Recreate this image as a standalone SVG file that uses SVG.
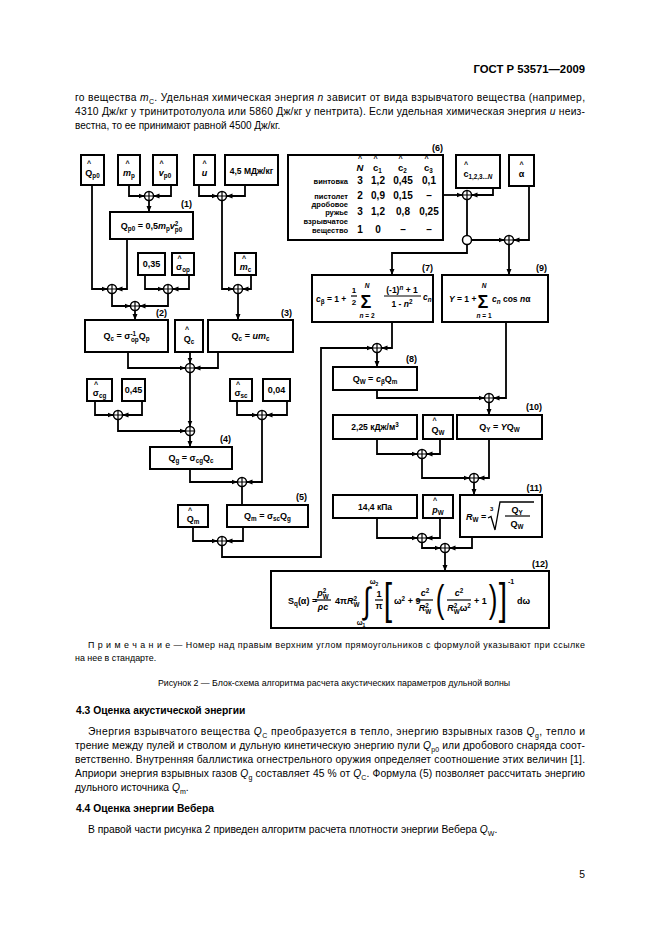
<svg xmlns="http://www.w3.org/2000/svg" width="661" height="935" viewBox="0 0 661 935">
<defs>
<style>
.bx{fill:#fff;stroke:#000;stroke-width:2}
.ln{fill:none;stroke:#000;stroke-width:1.8}
.ar{marker-end:url(#ah)}
.fr{stroke:#000;stroke-width:1.2}
.rad{fill:none;stroke:#000;stroke-width:1.3}
.t{font-family:"Liberation Sans",Arial,sans-serif;font-weight:bold;font-size:9px;fill:#000;text-anchor:middle}
.tl{font-family:"Liberation Sans",Arial,sans-serif;font-weight:bold;font-size:9px;fill:#000}
.lab{font-family:"Liberation Sans",Arial,sans-serif;font-weight:bold;font-size:7.5px;fill:#000;text-anchor:end}
.num{font-family:"Liberation Sans",Arial,sans-serif;font-weight:bold;font-size:9px;fill:#000;text-anchor:end}
.v{font-family:"Liberation Sans",Arial,sans-serif;font-weight:bold;font-size:10px;fill:#000;text-anchor:middle}
.i{font-style:italic}
.s{font-size:6.3px}
.hat{font-family:"Liberation Sans",Arial,sans-serif;font-weight:bold;font-size:7px;text-anchor:middle}
.big{font-family:"Liberation Sans",Arial,sans-serif;font-weight:bold;fill:#000;text-anchor:middle}
.brk{font-family:"Liberation Sans",Arial,sans-serif;font-weight:normal;fill:#000;text-anchor:middle}
.p{font-family:"Liberation Sans",Arial,sans-serif;font-size:10.3px;fill:#000}
.h{font-weight:bold}
.ps{font-size:7px}
</style>
<marker id="ah" viewBox="0 0 6 6" refX="6" refY="3" markerWidth="6" markerHeight="6" markerUnits="userSpaceOnUse" orient="auto"><path d="M0 0.5L6 3L0 5.5z" fill="#000"/></marker>
<g id="sum"><circle r="4.5" fill="#fff" stroke="#000" stroke-width="1.5"/><path d="M-4.5 0H4.5M0-4.5V4.5" stroke="#000" stroke-width="1.2"/></g>
</defs>
<rect width="661" height="935" fill="#fff"/>

<!-- page text -->
<g id="page-text">
<text class="p h" x="585" y="73" text-anchor="end" style="font-size:11.3px">ГОСТ Р 53571—2009</text>
<text class="p" x="75" y="101" textLength="510" lengthAdjust="spacing">го вещества <tspan class="i">m</tspan><tspan class="ps" dy="2.5">C</tspan><tspan dy="-2.5">. Удельная химическая энергия </tspan><tspan class="i">n</tspan> зависит от вида взрывчатого вещества (например,</text>
<text class="p" x="75" y="115" textLength="510" lengthAdjust="spacing">4310 Дж/кг у тринитротолуола или 5860 Дж/кг у пентрита). Если удельная химическая энергия <tspan class="i">u</tspan> неиз-</text>
<text class="p" x="75" y="129" style="font-size:10px">вестна, то ее принимают равной 4500 Дж/кг.</text>

<text class="p" x="88" y="648" style="font-size:8.9px" textLength="497" lengthAdjust="spacing">П р и м е ч а н и е — Номер над правым верхним углом прямоугольников с формулой указывают при ссылке</text>
<text class="p" x="75" y="661" style="font-size:8.9px">на нее в стандарте.</text>
<text class="p" x="334" y="686" style="font-size:8.8px" text-anchor="middle">Рисунок  2 — Блок-схема алгоритма расчета акустических параметров дульной волны</text>

<text class="p h" x="76" y="714">4.3  Оценка акустической энергии</text>
<text class="p" x="88" y="735" textLength="497" lengthAdjust="spacing">Энергия взрывчатого вещества <tspan class="i">Q</tspan><tspan class="ps" dy="2.5">C</tspan><tspan dy="-2.5"> преобразуется в тепло, энергию взрывных газов </tspan><tspan class="i">Q</tspan><tspan class="ps" dy="2.5">g</tspan><tspan dy="-2.5">, тепло и</tspan></text>
<text class="p" x="75" y="749" textLength="510" lengthAdjust="spacing">трение между пулей и стволом и дульную кинетическую энергию пули <tspan class="i">Q</tspan><tspan class="ps" dy="2.5">p0</tspan><tspan dy="-2.5"> или дробового снаряда соот-</tspan></text>
<text class="p" x="75" y="763" textLength="510" lengthAdjust="spacing">ветственно. Внутренняя баллистика огнестрельного оружия определяет соотношение этих величин [1].</text>
<text class="p" x="75" y="777" textLength="510" lengthAdjust="spacing">Априори энергия взрывных газов <tspan class="i">Q</tspan><tspan class="ps" dy="2.5">g</tspan><tspan dy="-2.5"> составляет 45 % от </tspan><tspan class="i">Q</tspan><tspan class="ps" dy="2.5">C</tspan><tspan dy="-2.5">. Формула (5) позволяет рассчитать энергию</tspan></text>
<text class="p" x="75" y="791">дульного источника <tspan class="i">Q</tspan><tspan class="ps" dy="2.5">m</tspan><tspan dy="-2.5">.</tspan></text>
<text class="p h" x="76" y="812">4.4  Оценка энергии Вебера</text>
<text class="p" x="88" y="833">В правой части рисунка 2 приведен алгоритм расчета плотности энергии Вебера <tspan class="i">Q</tspan><tspan class="ps" dy="2.5">W</tspan><tspan dy="-2.5">.</tspan></text>
<text class="p" x="585" y="878" text-anchor="end">5</text>
</g>

<!-- connectors -->
<g id="connectors">
<path class="ln ar" d="M129 185V196H144.5"/>
<path class="ln ar" d="M171 185V196H153.5"/>
<path class="ln ar" d="M149 200.5V212"/>
<path class="ln ar" d="M199 185V196H217.5"/>
<path class="ln ar" d="M245 185V196H226.5"/>
<path class="ln ar" d="M92 185V289H107.5"/>
<path class="ln ar" d="M127 239V289H116.5"/>
<path class="ln ar" d="M145 275V289H163.5"/>
<path class="ln ar" d="M189 275V289H172.5"/>
<path class="ln ar" d="M222 200.5V289H233.5"/>
<path class="ln ar" d="M251 275V289H242.5"/>
<path class="ln ar" d="M112 293.5V306H130.5"/>
<path class="ln ar" d="M168 293.5V306H139.5"/>
<path class="ln ar" d="M135 310.5V320"/>
<path class="ln ar" d="M238 293.5V320"/>
<path class="ln ar" d="M128 352V368H185.5"/>
<path class="ln ar" d="M190 352V363.5"/>
<path class="ln ar" d="M218 352V368H194.5"/>
<path class="ln ar" d="M95 401V415H113.5"/>
<path class="ln ar" d="M142 401V415H122.5"/>
<path class="ln ar" d="M237 401V415H257.5"/>
<path class="ln ar" d="M287 401V415H266.5"/>
<path class="ln ar" d="M190 372.5V426.5"/>
<path class="ln ar" d="M118 419.5V431H185.5"/>
<path class="ln ar" d="M190 435.5V447"/>
<path class="ln ar" d="M190 469V482H237.5"/>
<path class="ln ar" d="M262 419.5V482H246.5"/>
<path class="ln" d="M242 486.5V505"/>
<path class="ln ar" d="M193 527V541H217.5"/>
<path class="ln ar" d="M243 527V541H226.5"/>
<path class="ln ar" d="M222 545.5V557H321V348H372.5"/>
<path class="ln ar" d="M443 195H462.5"/>
<path class="ln ar" d="M493 188V195H471.5"/>
<path class="ln" d="M467 199.5V235.5"/>
<path class="ln ar" d="M471.5 240H504.5"/>
<path class="ln ar" d="M529 186V240H513.5"/>
<path class="ln ar" d="M467 244.5V253H392V275"/>
<path class="ln ar" d="M509 244.5V275"/>
<path class="ln ar" d="M392 322V348H381.5"/>
<path class="ln ar" d="M377 352.5V367"/>
<path class="ln ar" d="M377 390V398H484.5"/>
<path class="ln ar" d="M506 322V398H493.5"/>
<path class="ln ar" d="M489 402.5V415"/>
<path class="ln ar" d="M377 439V454H417.5"/>
<path class="ln ar" d="M440 439V454H426.5"/>
<path class="ln ar" d="M422 458.5V478H469.5"/>
<path class="ln ar" d="M489 439V478H478.5"/>
<path class="ln ar" d="M474 482.5V495"/>
<path class="ln ar" d="M377 518V538H417.5"/>
<path class="ln ar" d="M440 518V538H426.5"/>
<path class="ln ar" d="M422 542.5V548H440.5"/>
<path class="ln ar" d="M472 537V548H449.5"/>
<path class="ln ar" d="M445 552.5V571"/>
</g>

<g id="junctions">
<use href="#sum" x="149" y="196"/>
<use href="#sum" x="222" y="196"/>
<use href="#sum" x="112" y="289"/>
<use href="#sum" x="168" y="289"/>
<use href="#sum" x="238" y="289"/>
<use href="#sum" x="135" y="306"/>
<use href="#sum" x="190" y="368"/>
<use href="#sum" x="118" y="415"/>
<use href="#sum" x="262" y="415"/>
<use href="#sum" x="190" y="431"/>
<use href="#sum" x="242" y="482"/>
<use href="#sum" x="222" y="541"/>
<use href="#sum" x="467" y="195"/>
<circle cx="467" cy="240" r="4.5" fill="#fff" stroke="#000" stroke-width="1.5"/>
<use href="#sum" x="509" y="240"/>
<use href="#sum" x="377" y="348"/>
<use href="#sum" x="489" y="398"/>
<use href="#sum" x="422" y="454"/>
<use href="#sum" x="474" y="478"/>
<use href="#sum" x="422" y="538"/>
<use href="#sum" x="445" y="548"/>
</g>

<!-- left column nodes -->
<g id="n-qp0hat"><rect class="bx" x="81" y="155" width="23" height="30"/><text class="t" x="92.5" y="176">Q<tspan class="s" dy="2">p0</tspan></text><text class="hat" x="89" y="166">^</text></g>
<g id="n-mphat"><rect class="bx" x="118" y="155" width="22" height="30"/><text class="t" x="129" y="176"><tspan class="i">m</tspan><tspan class="s" dy="2">p</tspan></text><text class="hat" x="127.5" y="166">^</text></g>
<g id="n-vp0hat"><rect class="bx" x="153" y="155" width="24" height="30"/><text class="t" x="165" y="176"><tspan class="i">v</tspan><tspan class="s" dy="2">p0</tspan></text><text class="hat" x="161.5" y="166">^</text></g>
<g id="n-uhat"><rect class="bx" x="194" y="155" width="21" height="30"/><text class="t" x="204.5" y="176"><tspan class="i">u</tspan></text><text class="hat" x="204.5" y="166">^</text></g>
<g id="n-45"><rect class="bx" x="225" y="155" width="53" height="30"/><text class="t" x="251.5" y="174" style="font-size:8.5px">4,5 МДж/кг</text></g>
<g id="n1"><rect class="bx" x="110" y="212" width="83" height="27"/><text class="num" x="192" y="207">(1)</text>
<text class="t" x="151.5" y="229">Q<tspan class="s" dy="2">p0</tspan><tspan dy="-2"> = 0,5</tspan><tspan class="i">m</tspan><tspan class="s" dy="2">p</tspan><tspan class="i" dy="-2">v</tspan><tspan class="s" dy="-3.5">2</tspan><tspan class="s" dx="-3.5" dy="6">p0</tspan></text></g>
<g id="n-035"><rect class="bx" x="138" y="253" width="27" height="22"/><text class="t" x="151.5" y="267">0,35</text></g>
<g id="n-sophat"><rect class="bx" x="172" y="253" width="22" height="22"/><text class="t" x="183" y="270">σ<tspan class="s" dy="2">op</tspan></text><text class="hat" x="179.5" y="261">^</text></g>
<g id="n-mchat"><rect class="bx" x="235" y="253" width="21" height="22"/><text class="t" x="245.5" y="270"><tspan class="i">m</tspan><tspan class="s" dy="2">c</tspan></text><text class="hat" x="244" y="261">^</text></g>
<g id="n2"><rect class="bx" x="85" y="320" width="83" height="32"/><text class="num" x="167" y="316">(2)</text>
<text class="t" x="126.5" y="339">Q<tspan class="s" dy="2">c</tspan><tspan dy="-2"> = σ</tspan><tspan class="s" dy="-3.5">-1</tspan><tspan class="s" dx="-5" dy="6">op</tspan><tspan dy="-2.5">Q</tspan><tspan class="s" dy="2">p</tspan></text></g>
<g id="n-qchat"><rect class="bx" x="175" y="320" width="28" height="32"/><text class="t" x="189" y="342">Q<tspan class="s" dy="2">c</tspan></text><text class="hat" x="187" y="332">^</text></g>
<g id="n3"><rect class="bx" x="208" y="320" width="85" height="32"/><text class="num" x="292" y="316">(3)</text>
<text class="t" x="250.5" y="339">Q<tspan class="s" dy="2">c</tspan><tspan dy="-2"> = </tspan><tspan class="i">um</tspan><tspan class="s" dy="2">c</tspan></text></g>
<g id="n-scghat"><rect class="bx" x="87" y="379" width="25" height="22"/><text class="t" x="99.5" y="396">σ<tspan class="s" dy="2">cg</tspan></text><text class="hat" x="96" y="387">^</text></g>
<g id="n-045"><rect class="bx" x="122" y="379" width="23" height="22"/><text class="t" x="133.5" y="393">0,45</text></g>
<g id="n-sschat"><rect class="bx" x="230" y="379" width="22" height="22"/><text class="t" x="241" y="396">σ<tspan class="s" dy="2">sc</tspan></text><text class="hat" x="238" y="387">^</text></g>
<g id="n-004"><rect class="bx" x="263" y="379" width="27" height="22"/><text class="t" x="276.5" y="393">0,04</text></g>
<g id="n4"><rect class="bx" x="150" y="447" width="82" height="22"/><text class="num" x="231" y="442">(4)</text>
<text class="t" x="191" y="461">Q<tspan class="s" dy="2">g</tspan><tspan dy="-2"> = σ</tspan><tspan class="s" dy="2">cg</tspan><tspan dy="-2">Q</tspan><tspan class="s" dy="2">c</tspan></text></g>
<g id="n-qmhat"><rect class="bx" x="178" y="505" width="30" height="22"/><text class="t" x="193" y="522">Q<tspan class="s" dy="2">m</tspan></text><text class="hat" x="190" y="513">^</text></g>
<g id="n5"><rect class="bx" x="227" y="505" width="81" height="22"/><text class="num" x="307" y="500">(5)</text>
<text class="t" x="267.5" y="519">Q<tspan class="s" dy="2">m</tspan><tspan dy="-2"> = σ</tspan><tspan class="s" dy="2">sc</tspan><tspan dy="-2">Q</tspan><tspan class="s" dy="2">g</tspan></text></g>

<!-- right column nodes -->
<g id="n6"><rect class="bx" x="288" y="155" width="155" height="85"/><text class="num" x="443" y="151">(6)</text>
<text class="v i" x="360" y="171" style="font-size:9.5px">N</text><text class="hat" x="360" y="161">^</text>
<text class="tl" x="373" y="171" style="font-size:9.5px">c<tspan class="s" dy="1.5">1</tspan></text><text class="hat" x="375.5" y="161">^</text>
<text class="tl" x="398" y="171" style="font-size:9.5px">c<tspan class="s" dy="1.5">2</tspan></text><text class="hat" x="400.5" y="161">^</text>
<text class="tl" x="424" y="171" style="font-size:9.5px">c<tspan class="s" dy="1.5">3</tspan></text><text class="hat" x="426.5" y="161">^</text>
<text class="lab" x="348" y="184">винтовка</text>
<text class="v" x="360" y="184">3</text><text class="v" x="378" y="184">1,2</text><text class="v" x="403" y="184">0,45</text><text class="v" x="429" y="184">0,1</text>
<text class="lab" x="348" y="199">пистолет</text>
<text class="v" x="360" y="199">2</text><text class="v" x="378" y="199">0,9</text><text class="v" x="403" y="199">0,15</text><text class="v" x="429" y="199">–</text>
<text class="lab" x="348" y="207">дробовое</text>
<text class="lab" x="348" y="215">ружье</text>
<text class="v" x="360" y="215">3</text><text class="v" x="378" y="215">1,2</text><text class="v" x="403" y="215">0,8</text><text class="v" x="429" y="215">0,25</text>
<text class="lab" x="348" y="224">взрывчатое</text>
<text class="lab" x="348" y="233">вещество</text>
<text class="v" x="360" y="233">1</text><text class="v" x="378" y="233">0</text><text class="v" x="403" y="233">–</text><text class="v" x="429" y="233">–</text>
</g>
<g id="n-chat"><rect class="bx" x="456" y="155" width="44" height="33"/><text class="t" x="478" y="177">c<tspan class="s" dy="2">1,2,3...<tspan class="i">N</tspan></tspan></text><text class="hat" x="466" y="167">^</text></g>
<g id="n-ahat"><rect class="bx" x="509" y="155" width="25" height="31"/><text class="t" x="521.5" y="177">α</text><text class="hat" x="521.5" y="167">^</text></g>

<g id="n7"><rect class="bx" x="312" y="275" width="121" height="47"/><text class="num" x="433" y="271">(7)</text>
<text class="tl" x="316" y="302" style="font-size:8.5px"><tspan class="i">c</tspan><tspan class="s" dy="2">β</tspan><tspan dy="-2"> = 1 +</tspan></text>
<text class="t" x="354" y="293" style="font-size:8px">1</text><line class="fr" x1="351" y1="296" x2="357" y2="296"/><text class="t" x="354" y="305" style="font-size:8px">2</text>
<text class="big" x="366" y="308" font-size="18">Σ</text>
<text class="t i" x="367" y="288" style="font-size:6.5px">N</text>
<text class="t" x="367" y="318" style="font-size:6.5px"><tspan class="i">n</tspan> = 2</text>
<text class="t" x="402" y="293" style="font-size:8.5px">(-1)<tspan class="s i" dy="-3">n</tspan><tspan dy="3"> + 1</tspan></text>
<line class="fr" x1="384" y1="296" x2="421" y2="296"/>
<text class="t" x="402" y="307" style="font-size:8.5px">1 - <tspan class="i">n</tspan><tspan class="s" dy="-3">2</tspan></text>
<text class="tl" x="423" y="300" style="font-size:8.5px"><tspan class="i">c</tspan><tspan class="s i" dy="2">n</tspan></text>
</g>
<g id="n9"><rect class="bx" x="442" y="275" width="106" height="47"/><text class="num" x="547" y="271">(9)</text>
<text class="tl" x="449" y="302" style="font-size:8.5px"><tspan class="i">Y</tspan> = 1 +</text>
<text class="big" x="483" y="308" font-size="18">Σ</text>
<text class="t i" x="484" y="288" style="font-size:6.5px">N</text>
<text class="t" x="484" y="318" style="font-size:6.5px"><tspan class="i">n</tspan> = 1</text>
<text class="tl" x="492" y="302" style="font-size:8.5px"><tspan class="i">c</tspan><tspan class="s i" dy="2">n</tspan><tspan dy="-2"> cos </tspan><tspan class="i">n</tspan>α</text>
</g>
<g id="n8"><rect class="bx" x="333" y="367" width="84" height="23"/><text class="num" x="417" y="362">(8)</text>
<text class="t" x="375" y="382">Q<tspan class="s" dy="2">W</tspan><tspan dy="-2"> = </tspan><tspan class="i">c</tspan><tspan class="s" dy="2">β</tspan><tspan dy="-2">Q</tspan><tspan class="s" dy="2">m</tspan></text></g>
<g id="n-225"><rect class="bx" x="333" y="415" width="84" height="24"/><text class="t" x="375" y="430" style="font-size:8.5px">2,25 кДж/м<tspan class="s" dy="-3">3</tspan></text></g>
<g id="n-qwhat"><rect class="bx" x="423" y="415" width="30" height="24"/><text class="t" x="438" y="433">Q<tspan class="s" dy="2">W</tspan></text><text class="hat" x="434.5" y="423">^</text></g>
<g id="n10"><rect class="bx" x="457" y="415" width="85" height="24"/><text class="num" x="542" y="410">(10)</text>
<text class="t" x="499.5" y="430">Q<tspan class="s" dy="2">Y</tspan><tspan dy="-2"> = </tspan><tspan class="i">Y</tspan>Q<tspan class="s" dy="2">W</tspan></text></g>
<g id="n-144"><rect class="bx" x="333" y="495" width="84" height="23"/><text class="t" x="375" y="510" style="font-size:8.5px">14,4 кПа</text></g>
<g id="n-pwhat"><rect class="bx" x="423" y="495" width="30" height="23"/><text class="t" x="438" y="513"><tspan class="i">p</tspan><tspan class="s" dy="2">W</tspan></text><text class="hat" x="435" y="503">^</text></g>
<g id="n11"><rect class="bx" x="460" y="495" width="82" height="42"/><text class="num" x="542" y="491">(11)</text>
<text class="tl" x="466" y="520"><tspan class="i">R</tspan><tspan class="s" dy="2">W</tspan><tspan dy="-2"> =</tspan></text>
<text class="tl" x="490" y="511" style="font-size:6px">3</text>
<polyline class="rad" points="488,518 491,516.5 495,530 500,502 534,502"/>
<text class="t" x="517" y="513">Q<tspan class="s" dy="2">Y</tspan></text>
<line class="fr" x1="505" y1="516" x2="530" y2="516"/>
<text class="t" x="517" y="527">Q<tspan class="s" dy="2">W</tspan></text>
</g>
<g id="n12"><rect class="bx" x="271" y="571" width="278" height="57"/><text class="num" x="548" y="567">(12)</text>
<text class="tl" x="288" y="604">S<tspan class="s" dy="2">q</tspan><tspan dy="-2">(α) =</tspan></text>
<text class="t" x="323" y="596"><tspan class="i">p</tspan><tspan class="s" dy="-3.5">2</tspan><tspan class="s" dx="-3.5" dy="6">W</tspan></text>
<line class="fr" x1="315" y1="600" x2="331" y2="600"/>
<text class="t i" x="323" y="610">ρc</text>
<text class="tl" x="335" y="604">4π<tspan class="i">R</tspan><tspan class="s" dy="-3.5">2</tspan><tspan class="s" dx="-3.5" dy="6">W</tspan></text>
<text class="brk" x="367" y="0" font-size="26" transform="translate(0 613) scale(1 1.4)">∫</text>
<text class="t" x="374" y="584" style="font-size:7px">ω<tspan font-size="5" dy="1.5">2</tspan></text>
<text class="t" x="361" y="625" style="font-size:7px">ω<tspan font-size="5" dy="1.5">1</tspan></text>
<text class="t" x="379" y="597">1</text><line class="fr" x1="375" y1="600" x2="383" y2="600"/><text class="t" x="379" y="609">π</text>
<text class="brk" x="388" y="0" font-size="30" transform="translate(0 614) scale(1 1.45)">[</text>
<text class="tl" x="394" y="604">ω<tspan class="s" dy="-3.5">2</tspan><tspan dy="3.5"> + 9</tspan></text>
<text class="t" x="425" y="596"><tspan class="i">c</tspan><tspan class="s" dy="-3.5">2</tspan></text>
<line class="fr" x1="417" y1="600" x2="433" y2="600"/>
<text class="t" x="425" y="611"><tspan class="i">R</tspan><tspan class="s" dy="-3.5">2</tspan><tspan class="s" dx="-3.5" dy="6">W</tspan></text>
<text class="brk" x="440" y="0" font-size="26" transform="translate(0 612) scale(1 1.5)">(</text>
<text class="t" x="459" y="596"><tspan class="i">c</tspan><tspan class="s" dy="-3.5">2</tspan></text>
<line class="fr" x1="447" y1="600" x2="471" y2="600"/>
<text class="t" x="459" y="611"><tspan class="i">R</tspan><tspan class="s" dy="-3.5">2</tspan><tspan class="s" dx="-3.5" dy="6">W</tspan><tspan dy="-2.5">ω</tspan><tspan class="s" dy="-3.5">2</tspan></text>
<text class="tl" x="474" y="604">+ 1</text>
<text class="brk" x="493" y="0" font-size="26" transform="translate(0 612) scale(1 1.5)">)</text>
<text class="brk" x="503" y="0" font-size="30" transform="translate(0 614) scale(1 1.45)">]</text>
<text class="tl" x="508" y="584" style="font-size:7px">-1</text>
<text class="tl" x="517" y="604">dω</text>
</g>
</svg>
